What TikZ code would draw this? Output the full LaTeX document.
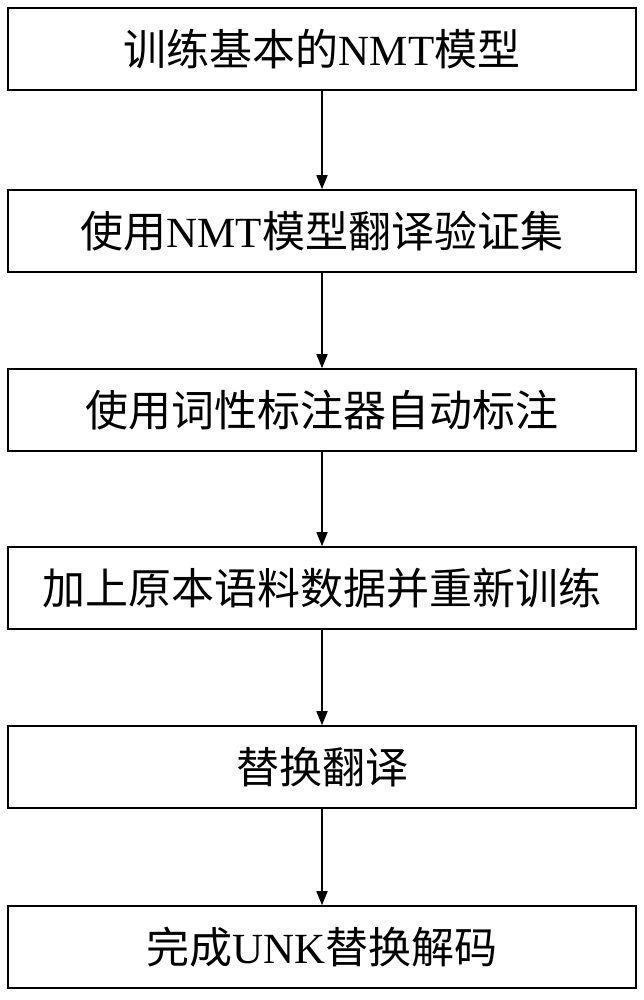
\documentclass[tikz,border=0pt]{standalone}
\usepackage{fontspec}
\setmainfont{Liberation Serif}
\newfontfamily\cjk{Noto Sans CJK SC}
\usetikzlibrary{arrows.meta}
\tikzset{box/.style={draw,line width=1.6pt,minimum width=628pt,minimum height=82pt,inner sep=0pt,font=\fontsize{43}{46}\selectfont},
arr/.style={-{Triangle[length=14pt,width=11pt]},line width=1.6pt}}
\begin{document}
\begin{tikzpicture}[x=1pt,y=-1pt]
\useasboundingbox (0,0) rectangle (644,1000);
\node[box] (a) at (322,49) {{\cjk 训练基本的}NMT{\cjk 模型}};
\node[box] (b) at (322,231) {{\cjk 使用}NMT{\cjk 模型翻译验证集}};
\node[box] (c) at (322,410) {\cjk 使用词性标注器自动标注};
\node[box] (d) at (322,588) {\cjk 加上原本语料数据并重新训练};
\node[box] (e) at (322,767) {\cjk 替换翻译};
\node[box] (f) at (322,947) {{\cjk 完成}UNK{\cjk 替换解码}};
\draw[arr] (a) -- (b);
\draw[arr] (b) -- (c);
\draw[arr] (c) -- (d);
\draw[arr] (d) -- (e);
\draw[arr] (e) -- (f);
\end{tikzpicture}
\end{document}
